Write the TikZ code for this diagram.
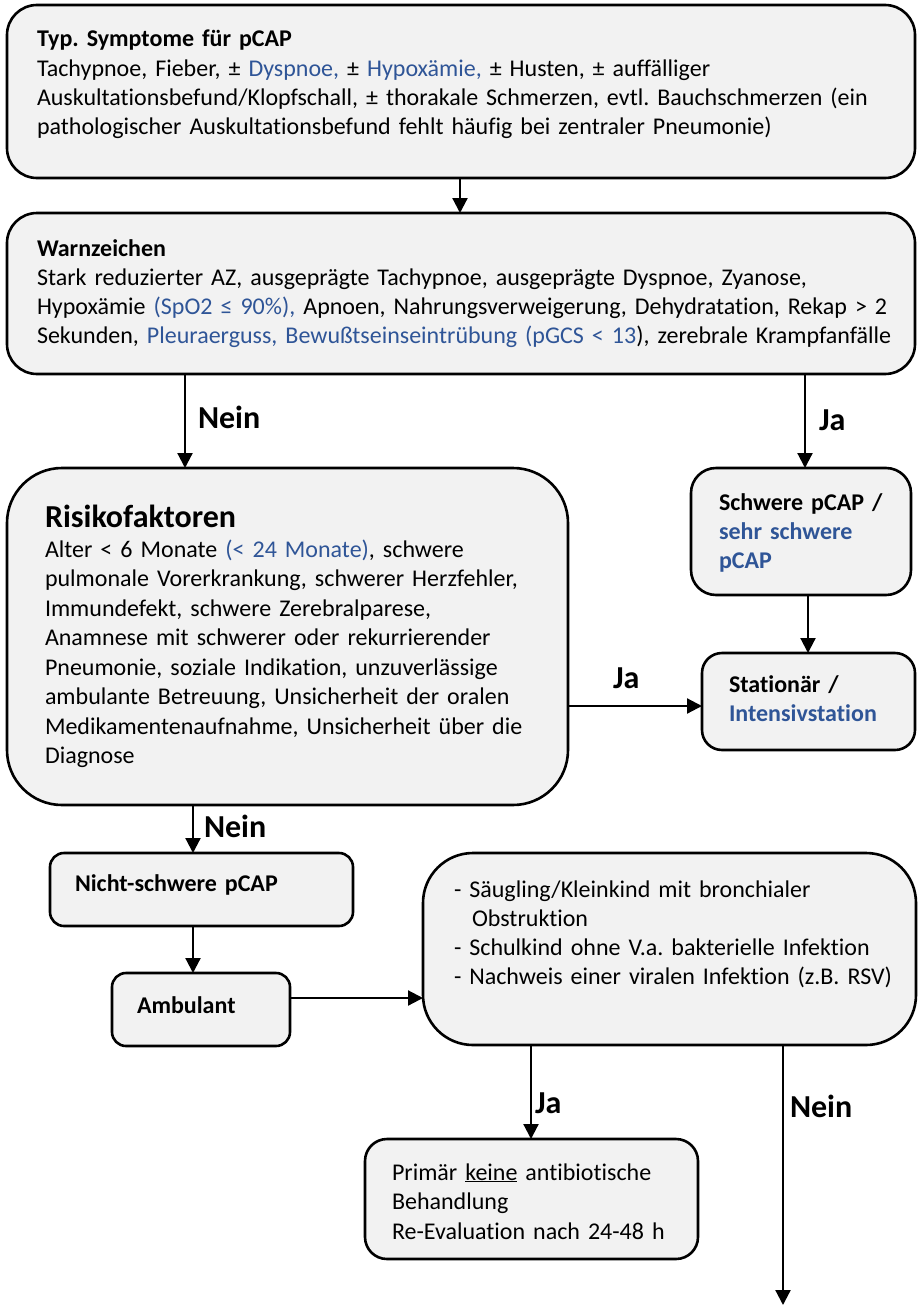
\documentclass[tikz,border=0pt]{standalone}
\usepackage{fontspec}
\setmainfont{Carlito}[Ligatures=NoCommon]
\usetikzlibrary{arrows.meta}
\definecolor{boxfill}{HTML}{F2F2F2}
\definecolor{accent}{HTML}{2F5597}
\newcommand{\hl}[1]{\textcolor{accent}{#1}}
\frenchspacing

\begin{document}
\begin{tikzpicture}[x=1pt,y=-1pt,
  box/.style={draw=black, line width=2.6pt, fill=boxfill, inner sep=0pt, outer sep=0pt},
  txt/.style={inner sep=0pt, outer sep=0pt, text width=#1, align=left, anchor=base west,
              font=\fontsize{24}{29.3}\selectfont},
  lbl/.style={inner sep=0pt, outer sep=0pt, anchor=base west, font=\fontsize{32}{38}\selectfont\bfseries},
  arr/.style={line width=2.2pt, -{Triangle[length=15pt,width=15pt]}},
]
\useasboundingbox (0,0) rectangle (921,1306);

% boxes
\node[box, rounded corners=30pt, minimum width=908pt, minimum height=173pt] (top) at (461,91.5) {};
\node[box, rounded corners=30pt, minimum width=908pt, minimum height=161pt] (warn) at (461,293.5) {};
\node[box, rounded corners=55pt, minimum width=561pt, minimum height=337pt] (risk) at (287.5,636.5) {};
\node[box, rounded corners=25pt, minimum width=220pt, minimum height=127pt] (schwer) at (801,531.5) {};
\node[box, rounded corners=20pt, minimum width=213pt, minimum height=97pt] (stat) at (808.5,701.5) {};
\node[box, rounded corners=14pt, minimum width=303pt, minimum height=73pt] (nicht) at (201.5,889.5) {};
\node[box, rounded corners=14pt, minimum width=178pt, minimum height=73pt] (amb) at (201,1009.5) {};
\node[box, rounded corners=50pt, minimum width=493pt, minimum height=192pt] (viral) at (669.5,949) {};
\node[box, rounded corners=22pt, minimum width=333pt, minimum height=120pt] (prim) at (531.5,1199) {};

% box texts
\node[txt=860pt] (toptext) at (37,47) {\textbf{Typ. Symptome für pCAP}\\
Tachypnoe, Fieber, ± \hl{Dyspnoe,} ± \hl{Hypoxämie,} ± Husten, ± auffälliger\\
Auskultationsbefund/Klopfschall, ± thorakale Schmerzen, evtl. Bauchschmerzen (ein\\
pathologischer Auskultationsbefund fehlt häufig bei zentraler Pneumonie)};

\node[txt=860pt] (warntext) at (37,256) {\textbf{Warnzeichen}\\
Stark reduzierter AZ, ausgeprägte Tachypnoe, ausgeprägte Dyspnoe, Zyanose,\\
Hypoxämie \hl{(SpO2 ≤ 90\%),} Apnoen, Nahrungsverweigerung, Dehydratation, Rekap > 2\\
Sekunden, \hl{Pleuraerguss, Bewußtseinseintrübung (pGCS < 13}), zerebrale Krampfanfälle};

\node[lbl] (risktitle) at (45,527) {Risikofaktoren};
\node[txt=510pt, font=\fontsize{24}{29.5}\selectfont] (risktext) at (45,557) {Alter < 6 Monate \hl{(< 24 Monate)}, schwere\\
pulmonale Vorerkrankung, schwerer Herzfehler,\\
Immundefekt, schwere Zerebralparese,\\
Anamnese mit schwerer oder rekurrierender\\
Pneumonie, soziale Indikation, unzuverlässige\\
ambulante Betreuung, Unsicherheit der oralen\\
Medikamentenaufnahme, Unsicherheit über die\\
Diagnose};

\node[txt=185pt, font=\fontsize{24}{29}\selectfont\bfseries] (schwertext) at (719,510) {Schwere pCAP /\\
\hl{sehr schwere}\\
\hl{pCAP}};

\node[txt=175pt, font=\fontsize{24}{29}\selectfont\bfseries] (stattext) at (729,692) {Stationär /\\
\hl{Intensivstation}};

\node[txt=270pt, font=\fontsize{24}{29}\selectfont\bfseries] (nichttext) at (75,891) {Nicht-schwere pCAP};
\node[txt=150pt, font=\fontsize{24}{29}\selectfont\bfseries] (ambtext) at (137,1013) {Ambulant};

\node[txt=450pt] (viraltext) at (454,897) {-~Säugling/Kleinkind mit bronchialer\\
\hspace*{18pt}Obstruktion\\
-~Schulkind ohne V.a. bakterielle Infektion\\
-~Nachweis einer viralen Infektion (z.B. RSV)};

\node[txt=300pt, font=\fontsize{24}{29.5}\selectfont] (primtext) at (392,1180) {Primär \underline{keine} antibiotische\\
Behandlung\\
Re-Evaluation nach 24-48 h};

% connector columns and rows
\coordinate (cA) at (460,0);
\coordinate (cB) at (185,0);
\coordinate (cC) at (805,0);
\coordinate (cD) at (808,0);
\coordinate (rE) at (0,706);
\coordinate (cF) at (193,0);
\coordinate (rG) at (0,998);
\coordinate (cH) at (531,0);
\coordinate (cI) at (783,0);
\coordinate (nend) at (783,1305);

% connectors
\draw[arr] (top.south -| cA) -- (warn.north -| cA);
\draw[arr] (warn.south -| cB) -- (risk.north -| cB);
\draw[arr] (warn.south -| cC) -- (schwer.north -| cC);
\draw[arr] (schwer.south -| cD) -- (stat.north -| cD);
\draw[arr] (risk.east |- rE) -- (stat.west |- rE);
\draw[arr] (risk.south -| cF) -- (nicht.north -| cF);
\draw[arr] (nicht.south -| cF) -- (amb.north -| cF);
\draw[arr] (amb.east |- rG) -- (viral.west |- rG);
\draw[arr] (viral.south -| cH) -- (prim.north -| cH);
\draw[arr] (viral.south -| cI) -- (nend);

% connector labels
\node[lbl] (nein1) at (198,428) {Nein};
\node[lbl] (ja1) at (819,430) {Ja};
\node[lbl] (ja2) at (613,688) {Ja};
\node[lbl] (nein2) at (204,837) {Nein};
\node[lbl] (ja3) at (535,1113) {Ja};
\node[lbl] (nein3) at (790,1117) {Nein};
\end{tikzpicture}
\end{document}
